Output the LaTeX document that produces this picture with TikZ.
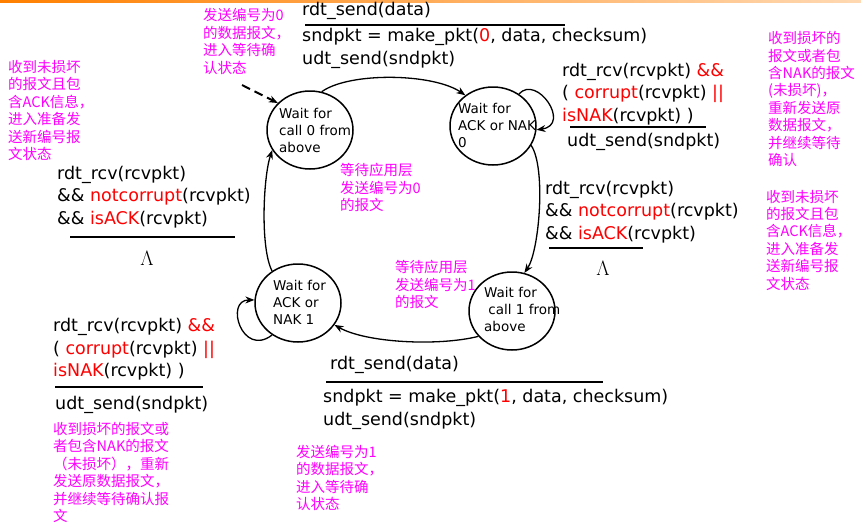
\documentclass[tikz,border=0pt]{standalone}
\usepackage{fontspec}
\setmainfont{DejaVu Sans}
\newfontfamily\cjk{Noto Sans CJK SC}
\usetikzlibrary{arrows.meta, shapes.geometric}

\definecolor{notepink}{RGB}{255,0,255}
\definecolor{condred}{RGB}{255,0,0}

\tikzset{
	state/.style={ellipse, draw, line width=1.5pt, minimum width=86pt, minimum height=78pt, inner sep=0pt},
	stxt/.style={anchor=west, align=left, inner sep=0pt, font=\fontsize{13.5}{17}\selectfont},
	lbl/.style={anchor=west, align=left, inner sep=0pt, font=\fontsize{17.5}{22.5}\selectfont},
	note/.style={anchor=west, align=left, inner sep=0pt, text=notepink, font=\cjk\fontsize{14.5}{17.4}\selectfont},
	trans/.style={-{Stealth[length=9pt, width=7pt]}, line width=1.3pt},
	rule/.style={line width=2.5pt},
}

\begin{document}
\begin{tikzpicture}[x=1pt, y=-1pt]
			\useasboundingbox (0,0) rectangle (861,522);
			\shade[left color=orange, right color=orange!30] (0,0) rectangle (861,2);
			% states
			\node (w0)[state] at (310,130) {};
			\node (ack0)[state] at (493,126) {};
			\node (w1)[state] at (512,311) {};
			\node (ack1)[state] at (298,303) {};
			\node (w0t)[stxt] at (279,130) {Wait for\\call 0 from\\above};
			\node (ack0t)[stxt] at (458,125) {Wait for\\ACK or NAK\\0};
			\node (w1t)[stxt] at (484,309) {Wait for\\\ call 1 from\\above};
			\node (ack1t)[stxt] at (273,302) {Wait for\\ACK or\\NAK 1};
			\coordinate (init) at (242,85);
			% transitions
			\draw[trans, dash pattern=on 9pt off 5pt, line width=2pt] (init) -- (w0.140);
			\draw[trans] (w0.73) .. controls +(28,-20) and +(-32,-22) .. (ack0.132);
			\draw[trans] (ack0.51) .. controls +(18,-20) and +(35,-5) .. (ack0.-5);
			\draw[trans] (ack0.333) .. controls +(15,22) and +(15,-22) .. (w1.72);
			\draw[trans] (w1.217) .. controls +(-40,10) and +(32,18) .. (ack1.329);
			\draw[trans] (ack1.231) .. controls +(-30,23) and +(-30,0) .. (ack1.176);
			\draw[trans] (ack1.129) .. controls +(-12,-23) and +(-9,27) .. (w0.208);
			% top label
			\node (ev01)[lbl] at (302,11) {rdt\_send(data)};
			\draw[rule] (305,25) -- (565,25);
			\node (act01)[lbl] at (302,48.5) {sndpkt = make\_pkt(\textcolor{condred}{0}, data, checksum)\\udt\_send(sndpkt)};
			% self loop of ack0
			\node (ev00)[lbl] at (562,94) {rdt\_rcv(rcvpkt) \textcolor{condred}{\&\&}\\( \textcolor{condred}{corrupt}(rcvpkt) \textcolor{condred}{||}\\\textcolor{condred}{isNAK}(rcvpkt) )};
			\draw[rule] (570,127) -- (706,127);
			\node (act00)[lbl] at (567,142) {udt\_send(sndpkt)};
			% ack0 to w1
			\node (ev12)[lbl] at (545,212) {rdt\_rcv(rcvpkt)\\\&\& \textcolor{condred}{notcorrupt}(rcvpkt)\\\&\& \textcolor{condred}{isACK}(rcvpkt)};
			\draw[rule] (549,248) -- (643,248);
			\node (act12)[inner sep=0pt] at (603,268) {\fontsize{20}{20}\selectfont$\Lambda$};
			% bottom label
			\node (ev23)[lbl] at (330,365) {rdt\_send(data)};
			\draw[rule] (326,382) -- (603,382);
			\node (act23)[lbl] at (323,409.5) {sndpkt = make\_pkt(\textcolor{condred}{1}, data, checksum)\\udt\_send(sndpkt)};
			% self loop of ack1
			\node (ev33)[lbl] at (53,349.5) {rdt\_rcv(rcvpkt) \textcolor{condred}{\&\&}\\( \textcolor{condred}{corrupt}(rcvpkt) \textcolor{condred}{||}\\\textcolor{condred}{isNAK}(rcvpkt) )};
			\draw[rule] (55,387) -- (203,387);
			\node (act33)[lbl] at (55,405) {udt\_send(sndpkt)};
			% ack1 to w0
			\node (ev30)[lbl] at (57,197) {rdt\_rcv(rcvpkt)\\\&\& \textcolor{condred}{notcorrupt}(rcvpkt)\\\&\& \textcolor{condred}{isACK}(rcvpkt)};
			\draw[rule] (70,237) -- (235,237);
			\node (act30)[inner sep=0pt] at (147,258) {\fontsize{20}{20}\selectfont$\Lambda$};
			% notes
			\node (n01)[note] at (203,41.5) {发送编号为0\\的数据报文，\\进入等待确\\认状态};
			\node (n30)[note] at (8,110.5) {收到未损坏\\的报文且包\\含ACK信息，\\进入准备发\\送新编号报\\文状态};
			\node (n00)[note] at (768,99) {收到损坏的\\报文或者包\\含NAK的报文\\(未损坏)，\\重新发送原\\数据报文，\\并继续等待\\确认};
			\node (n12)[note] at (766,240) {收到未损坏\\的报文且包\\含ACK信息，\\进入准备发\\送新编号报\\文状态};
			\node (nw0)[note] at (340,187.5) {等待应用层\\发送编号为0\\的报文};
			\node (nw1)[note] at (395,284.5) {等待应用层\\发送编号为1\\的报文};
			\node (n33)[note] at (53,472.5) {收到损坏的报文或\\者包含NAK的报文\\（未损坏），重新\\发送原数据报文，\\并继续等待确认报\\文};
			\node (n23)[note] at (296,478) {发送编号为1\\的数据报文，\\进入等待确\\认状态};
		\end{tikzpicture}
\end{document}
